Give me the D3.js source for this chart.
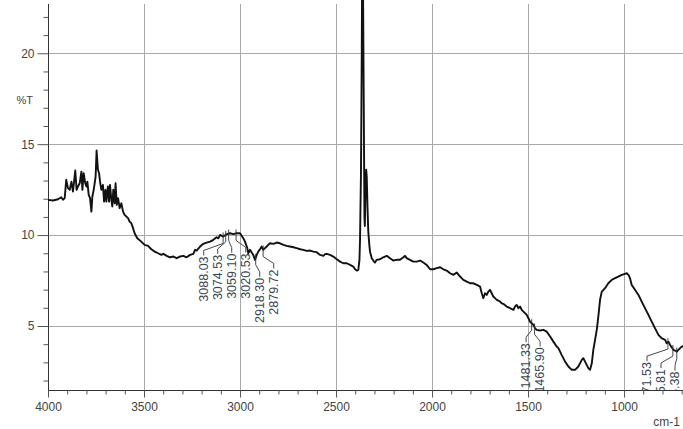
<!DOCTYPE html>
<html><head><meta charset="utf-8">
<script src="https://cdn.jsdelivr.net/npm/d3@7"></script>
<style>
body{margin:0;background:#fff}
svg{display:block}
text{font-family:"Liberation Sans",Arial,sans-serif}
</style>
</head><body>
<svg id="chart" width="683" height="429"></svg>
<script>
// ---- data ----
const wavenumbers = [
4000,3974,3948,3931,3922,3913,3905,3896,3887,3878,3870,3858,3851,3844,3835,3826,3821,3814,3806,3800,
3795,3788,3781,3774,3769,3762,3757,3752,3747,3740,3734,3729,3722,3714,3708,3701,3696,3688,3682,3677,
3670,3665,3660,3653,3648,3642,3635,3627,3618,3609,3601,3583,3575,3566,3557,3549,3535,3514,3497,3479,
3462,3444,3427,3410,3399,3382,3365,3347,3330,3313,3295,3278,3260,3243,3234,3226,3208,3191,3174,3156,
3139,3122,3113,3104,3087,3069,3052,3035,3017,3000,2983,2974,2962,2957,2948,2931,2922,2913,2905,2896,
2887,2879,2870,2861,2853,2844,2826,2809,2792,2774,2757,2740,2722,2705,2687,2670,2653,2635,2618,2601,
2583,2566,2557,2548,2531,2514,2496,2479,2462,2444,2427,2410,2401,2392,2384,2378,2375,2370,2366,2364,
2360,2356,2352,2350,2347,2343,2340,2336,2332,2327,2323,2314,2306,2297,2288,2271,2254,2236,2219,2202,
2184,2167,2149,2141,2132,2115,2097,2080,2062,2045,2028,2010,1993,1976,1958,1941,1924,1906,1889,1871,
1854,1837,1819,1802,1785,1767,1750,1741,1733,1724,1715,1707,1698,1689,1681,1672,1663,1655,1646,1637,
1629,1611,1594,1576,1568,1559,1550,1542,1533,1524,1507,1498,1490,1481,1472,1464,1455,1438,1420,1403,
1385,1368,1351,1342,1325,1307,1290,1272,1255,1238,1220,1212,1203,1186,1177,1168,1160,1151,1142,1134,
1125,1116,1099,1082,1064,1047,1030,1012,995,986,977,969,960,943,925,908,891,873,856,839,
821,805,786,778,769,760,752,743,734,725,717,708,699,690
];
const transmittance = [
11.94,11.90,11.97,12.08,11.94,12.03,13.04,12.58,12.49,12.94,12.39,13.55,12.49,12.67,12.85,13.49,12.49,13.40,12.85,12.67,
12.94,12.21,12.03,11.29,12.12,12.49,12.85,13.22,14.65,13.59,13.40,12.94,12.49,12.76,11.84,12.49,11.84,12.67,11.84,12.76,
11.94,11.57,12.49,11.75,12.85,11.66,12.03,11.48,11.75,11.29,11.11,10.93,10.74,10.65,10.38,10.10,9.83,9.64,9.46,9.41,
9.22,9.09,9.00,8.91,8.97,8.86,8.78,8.82,8.73,8.82,8.86,8.78,8.91,8.97,9.19,9.15,9.37,9.52,9.59,9.64,
9.74,9.88,9.82,10.01,9.92,10.05,10.10,10.05,10.10,10.10,9.83,9.64,9.28,9.00,9.19,8.91,8.64,8.91,9.09,9.22,
9.37,9.19,9.28,9.37,9.46,9.55,9.52,9.59,9.55,9.46,9.41,9.37,9.33,9.28,9.22,9.19,9.13,9.15,9.09,9.06,
8.91,8.86,8.95,8.97,8.91,8.82,8.67,8.54,8.45,8.45,8.36,8.27,8.12,8.05,8.08,8.64,9.74,13.5,20.0,24.5,
24.5,18.0,11.0,10.5,12.2,13.6,13.2,11.5,10.2,9.5,9.09,8.73,8.60,8.49,8.64,8.67,8.78,8.86,8.73,8.60,
8.64,8.64,8.78,8.86,8.73,8.64,8.54,8.54,8.60,8.49,8.36,8.12,8.12,8.18,8.23,8.12,8.05,7.90,7.81,7.94,
7.72,7.54,7.44,7.35,7.35,7.26,7.17,6.80,6.53,6.80,6.71,6.89,6.99,6.80,6.62,6.53,6.44,6.40,6.34,6.25,
6.22,6.07,5.98,5.89,6.07,6.16,5.98,6.07,5.89,5.79,5.61,5.43,5.24,5.15,5.06,4.88,4.79,4.75,4.79,4.69,
4.42,4.14,3.87,3.78,3.41,3.04,2.77,2.59,2.59,2.77,3.14,3.23,3.04,2.68,2.59,2.95,3.69,4.24,4.79,5.52,
6.44,6.89,7.08,7.35,7.54,7.63,7.72,7.81,7.87,7.90,7.81,7.63,7.26,6.99,6.71,6.34,5.98,5.61,5.24,4.88,
4.51,4.33,4.24,4.05,4.14,3.96,3.83,3.69,3.65,3.59,3.69,3.78,3.87,3.90
];
const peakWavenumbers = [3088.03,3074.53,3059.10,3020.53,2918.30,2879.72,1481.33,1465.90,771.53,745.81,725.38];
const peakLabels = ["3088.03","3074.53","3059.10","3020.53","2918.30","2879.72","1481.33","1465.90","771.53","745.81","725.38"];
const xMajorTicks = [4000,3500,3000,2500,2000,1500,1000];
const yMajorTicks = [5,10,15,20];
const yAxisTitle = "%T";
const xAxisTitle = "cm-1";

// ---- layout ----
const W = 683, H = 429;
const m = {left:48, right:0, top:4, bottom:39};
const svg = d3.select("#chart");
const x = d3.scaleLinear().domain([4000, 693]).range([m.left, W - m.right]);
const y = d3.scaleLinear().domain([1.48, 22.71]).range([H - m.bottom, m.top]);
const x0 = m.left, x1 = W - m.right, yb = H - m.bottom, yt = m.top;

svg.append("defs").append("clipPath").attr("id","plotclip")
  .append("rect").attr("x", x0).attr("y", 0).attr("width", x1 - x0).attr("height", yb);

// grid
const grid = svg.append("g").attr("stroke","#a9a9a9").attr("stroke-width",1);
xMajorTicks.filter(t => t !== 4000).forEach(t => {
  grid.append("line").attr("x1", Math.round(x(t))+0.5).attr("x2", Math.round(x(t))+0.5)
    .attr("y1", yt).attr("y2", yb);
});
yMajorTicks.forEach(t => {
  grid.append("line").attr("x1", x0).attr("x2", x1)
    .attr("y1", Math.round(y(t))+0.5).attr("y2", Math.round(y(t))+0.5);
});

// y axis
const yAxis = d3.axisLeft(y).tickValues(yMajorTicks).tickSize(11).tickPadding(3).tickFormat(d3.format("d"));
const gy = svg.append("g").attr("transform", `translate(${x0 + 0.5},0)`).call(yAxis);
gy.select(".domain").attr("d", `M0,${yt}V${yb}`).attr("stroke","#333");
gy.selectAll(".tick line").attr("stroke","#555");
gy.selectAll(".tick text").attr("fill","#444").attr("font-size",12).attr("font-family",'"Liberation Sans",Arial,sans-serif');
const yMinor = d3.range(2, 23).filter(v => !yMajorTicks.includes(v));
const gyMinor = svg.append("g").attr("transform", `translate(${x0 + 0.5},0)`)
  .call(d3.axisLeft(y).tickValues(yMinor).tickSize(5).tickFormat(""));
gyMinor.select(".domain").remove();
gyMinor.selectAll(".tick line").attr("stroke","#555");

// x axis
const xAxis = d3.axisBottom(x).tickValues(xMajorTicks).tickSize(7).tickPadding(5).tickFormat(d3.format("d"));
const gx = svg.append("g").attr("transform", `translate(0,${yb + 0.5})`).call(xAxis);
gx.select(".domain").attr("d", `M${x0},0H${x1}`).attr("stroke","#333");
gx.selectAll(".tick line").attr("stroke","#555");
gx.selectAll(".tick text").attr("fill","#444").attr("font-size",12).attr("font-family",'"Liberation Sans",Arial,sans-serif');
const xMinor = d3.range(700, 4000, 100).filter(v => !xMajorTicks.includes(v));
const gxMinor = svg.append("g").attr("transform", `translate(0,${yb + 0.5})`)
  .call(d3.axisBottom(x).tickValues(xMinor).tickSize(4).tickFormat(""));
gxMinor.select(".domain").remove();
gxMinor.selectAll(".tick line").attr("stroke","#555");

// axis titles
svg.append("text").attr("x", 33).attr("y", 104).attr("text-anchor","end")
  .attr("font-size",11).attr("fill","#444").text(yAxisTitle);
svg.append("text").attr("x", 680).attr("y", 426).attr("text-anchor","end")
  .attr("font-size",12).attr("fill","#444").text(xAxisTitle);

// spectrum
const pts = wavenumbers.map((w,i) => [w, transmittance[i]]);
const line = d3.line().x(d => x(d[0])).y(d => y(d[1]));
svg.append("path").attr("clip-path","url(#plotclip)")
  .attr("d", line(pts)).attr("fill","none").attr("stroke","#111")
  .attr("stroke-width",1.9).attr("stroke-linejoin","round");

// peak labels
function interpT(w){
  for (let i = 0; i < pts.length - 1; i++){
    const a = pts[i], b = pts[i+1];
    if (w <= a[0] && w >= b[0]) { const t = (a[0]-w)/(a[0]-b[0]); return a[1] + t*(b[1]-a[1]); }
  }
  return pts[pts.length-1][1];
}
const gap = 14, lo = x0 + 8, hi = x1 - 8;
const peakX = peakWavenumbers.map(w => x(w));
let clusters = peakX.map((px,i) => ({idx:[i]}));
const startOf = c => {
  const n = c.idx.length;
  let s = d3.mean(c.idx, i => peakX[i]) - (n-1)*gap/2;
  s = Math.max(lo, Math.min(hi - (n-1)*gap, s));
  return s;
};
let changed = true;
while (changed){
  changed = false;
  for (let i = 0; i < clusters.length - 1; i++){
    const a = clusters[i], b = clusters[i+1];
    if (startOf(a) + a.idx.length*gap > startOf(b)){
      clusters.splice(i, 2, {idx: a.idx.concat(b.idx)});
      changed = true; break;
    }
  }
}
const labelX = [];
clusters.forEach(c => { const s = startOf(c); c.idx.forEach((i,k) => labelX[i] = s + k*gap); });

const gp = svg.append("g").attr("clip-path","url(#plotclip)");
peakWavenumbers.forEach((w,i) => {
  const px = x(w), cy = y(interpT(w));
  const top = cy + 20, lx = labelX[i];
  gp.append("path")
    .attr("d", `M${lx},${top-1}L${lx},${top-6}L${px},${cy+7}L${px},${cy-4}`)
    .attr("fill","none").attr("stroke","#333").attr("stroke-width",0.9);
  gp.append("text").attr("transform", `translate(${lx},${top}) rotate(-90)`)
    .attr("text-anchor","end").attr("dy","0.35em")
    .attr("font-size",12.5).attr("fill","#3a4652").text(peakLabels[i]);
});
</script>
</body></html>
